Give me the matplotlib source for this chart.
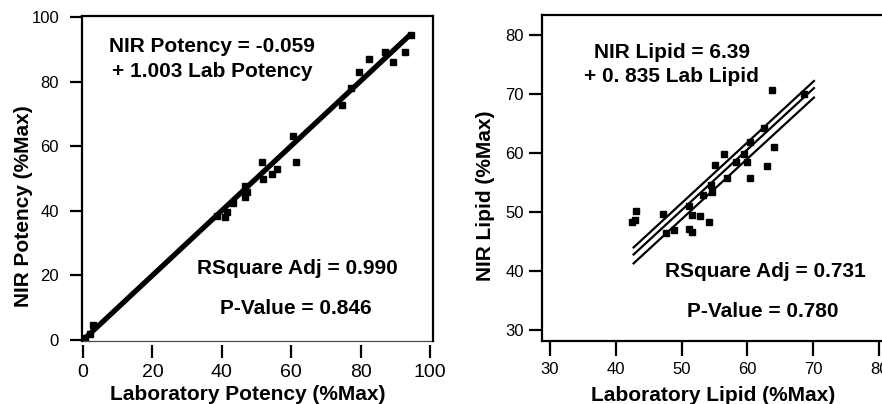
import matplotlib
matplotlib.use('Agg')
import matplotlib.pyplot as plt
import numpy as np

plt.rcParams['font.family'] = ['Liberation Sans', 'DejaVu Sans']

# left panel: potency
lab_potency = [0.5, 2.0, 3.0, 38.5, 40.9, 41.4, 43.3, 46.7, 47.2, 46.7, 51.5, 52.0,
               54.4, 55.8, 60.4, 61.4, 74.5, 77.2, 79.6, 82.5, 87.0, 89.4, 92.8, 94.4]
nir_potency = [0.5, 2.0, 4.6, 38.4, 38.2, 39.7, 42.4, 44.4, 45.9, 47.8, 55.2, 49.7,
               51.4, 52.9, 63.2, 55.2, 72.8, 77.9, 82.9, 87.0, 89.3, 86.0, 89.3, 94.4]
potency_intercept = -0.059
potency_slope = 1.003
potency_fit_x = [0.5, 94.5]

# right panel: lipid
lab_lipid = [42.4, 42.9, 43.0, 47.2, 47.6, 48.8, 51.1, 51.1, 51.6, 51.6, 52.8, 53.2, 54.2, 54.4,
             54.6, 55.0, 56.5, 56.9, 58.2, 59.4, 59.9, 60.4, 60.4, 62.5, 63.0, 63.8, 64.0, 68.6]
nir_lipid = [48.3, 48.6, 50.1, 49.6, 46.5, 47.0, 51.0, 47.2, 49.5, 46.6, 49.3, 52.8, 48.3, 54.6,
             53.4, 58.0, 59.8, 55.8, 58.4, 59.8, 58.4, 61.9, 55.7, 64.2, 57.8, 70.7, 61.0, 70.0]
lipid_fit_x = [42.7, 70.1]
lipid_fit = [42.8, 71.0]
lipid_upper = [44.0, 72.2]
lipid_lower = [41.3, 69.4]

potency_ticks = [0, 20, 40, 60, 80, 100]
lipid_xticks = [30, 40, 50, 60, 70, 80]
lipid_yticks = [30, 40, 50, 60, 70, 80]

fig = plt.figure(figsize=(8.82, 4.04), dpi=100)
ax1 = fig.add_axes([82 / 882, 63 / 404, 351 / 882, 325 / 404])
ax2 = fig.add_axes([542 / 882, 63 / 404, 370 / 882, 326 / 404])

bold = dict(fontsize=15, fontweight='bold')

# ---- left panel
fx = np.array(potency_fit_x)
ax1.plot(fx, potency_intercept + potency_slope * fx, color='black', lw=3.8,
         solid_capstyle='butt')
ax1.plot(lab_potency, nir_potency, 's', color='black', ms=3.8)
ax1.set_xlim(-0.29, 100.86)
ax1.set_ylim(-0.31, 100.31)
ax1.set_xticks(potency_ticks)
ax1.set_yticks(potency_ticks)
for s in ax1.spines.values():
    s.set_linewidth(1.6)
ax1.spines['bottom'].set_position(('outward', 3))
ax1.spines['bottom'].set_color('none')
ax1.plot([0, 1], [0, 0], transform=ax1.transAxes, color='0.3', lw=0.9, clip_on=False)
ax1.tick_params(axis='x', direction='out', length=9.5, width=1.6, labelsize=14, pad=4)
ax1.tick_params(axis='y', direction='out', length=8.5, width=1.6, labelsize=12, pad=8)

ax1.set_xlabel('Laboratory Potency (%Max)', va='center', **bold)
ax1.xaxis.set_label_coords(0.473, -0.166)
ax1.set_ylabel('NIR Potency (%Max)', va='center', **bold)
ax1.yaxis.set_label_coords(-0.168, 0.415)

ax1.text(0.37, 0.905, 'NIR Potency = -0.059', transform=ax1.transAxes,
         ha='center', va='center', **bold)
ax1.text(0.37, 0.828, '+ 1.003 Lab Potency', transform=ax1.transAxes,
         ha='center', va='center', **bold)
ax1.text(0.6125, 0.2246, 'RSquare Adj = 0.990', transform=ax1.transAxes,
         ha='center', va='center', **bold)
ax1.text(0.61, 0.1015, 'P-Value = 0.846', transform=ax1.transAxes,
         ha='center', va='center', **bold)

# ---- right panel
ax2.plot(lipid_fit_x, lipid_upper, color='black', lw=1.6)
ax2.plot(lipid_fit_x, lipid_fit, color='black', lw=1.6)
ax2.plot(lipid_fit_x, lipid_lower, color='black', lw=1.6)
ax2.plot(lab_lipid, nir_lipid, 's', color='black', ms=3.8)
ax2.set_xlim(28.78, 85.0)
ax2.set_ylim(28.14, 83.39)
ax2.set_xticks(lipid_xticks)
ax2.set_yticks(lipid_yticks)
for s in ax2.spines.values():
    s.set_linewidth(1.6)
ax2.tick_params(axis='x', direction='out', length=11, width=1.6, labelsize=12, pad=4)
ax2.tick_params(axis='y', direction='out', length=9.5, width=1.6, labelsize=12, pad=3.5)

ax2.set_xlabel('Laboratory Lipid (%Max)', va='center', **bold)
ax2.xaxis.set_label_coords(0.462, -0.166)
ax2.set_ylabel('NIR Lipid (%Max)', va='center', **bold)
ax2.yaxis.set_label_coords(-0.154, 0.445)

ax2.text(0.351, 0.8865, 'NIR Lipid = 6.39', transform=ax2.transAxes,
         ha='center', va='center', **bold)
ax2.text(0.349, 0.81, '+ 0. 835 Lab Lipid', transform=ax2.transAxes,
         ha='center', va='center', **bold)
ax2.text(0.605, 0.2147, 'RSquare Adj = 0.731', transform=ax2.transAxes,
         ha='center', va='center', **bold)
ax2.text(0.597, 0.089, 'P-Value = 0.780', transform=ax2.transAxes,
         ha='center', va='center', **bold)

fig.savefig('out.png', dpi=100)
